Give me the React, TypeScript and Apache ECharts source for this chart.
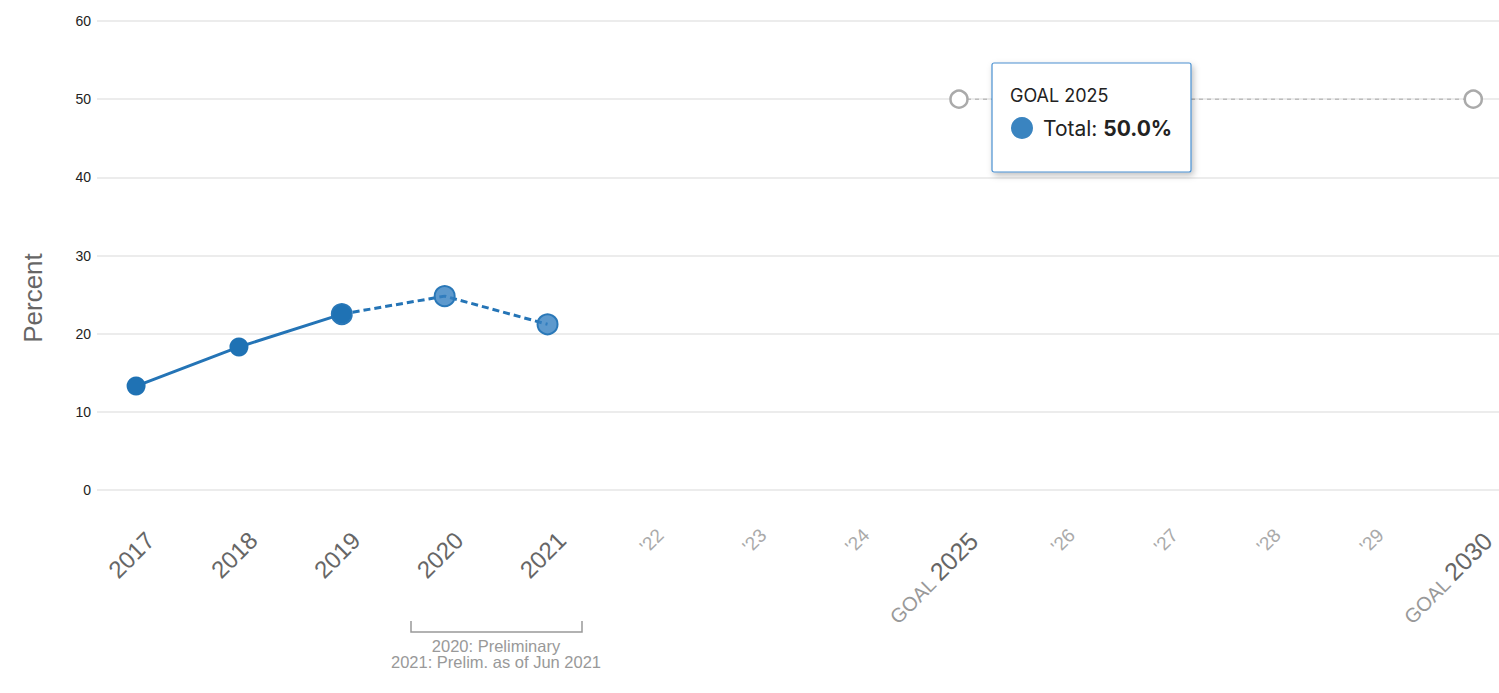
import React, { useEffect, useRef } from "react";
import * as echarts from "echarts";

// Share of total, percent
const finalYears = [2017, 2018, 2019];
const finalValues = [13.3, 18.3, 22.5];
const prelimYears = [2019, 2020, 2021];
const prelimValues = [22.5, 24.8, 21.2];
const goalYears = [2025, 2030];
const goalValues = [50, 50];
const axisYears = [2017, 2018, 2019, 2020, 2021, 2022, 2023, 2024, 2025, 2026, 2027, 2028, 2029, 2030];
const yTicks = [0, 10, 20, 30, 40, 50, 60];

const FONT = "'Liberation Sans', Arial, Helvetica, sans-serif";
const TIP_FONT = "Inter, 'Noto Sans', sans-serif";

function pairs(xs: number[], ys: number[]) {
  return xs.map((x, i) => [x, ys[i]]);
}

export default function App() {
  const ref = useRef<HTMLDivElement>(null);

  useEffect(() => {
    document.body.style.margin = "0";
    const chart = echarts.init(ref.current!, null, { renderer: "svg" });
    chart.setOption({
      animation: false,
      textStyle: { fontFamily: FONT },
      grid: { left: 97, right: 0, top: 21, bottom: 203, containLabel: false },
      xAxis: {
        type: "value",
        min: 2016.62,
        max: 2030.25,
        axisLine: { show: false },
        axisTick: { show: false },
        splitLine: { show: false },
        axisLabel: {
          customValues: axisYears,
          rotate: 45,
          margin: 32,
          verticalAlign: "top",
          padding: [8, 0, 0, 0],
          fontFamily: FONT,
          formatter: (v: number) => {
            if (v === 2025 || v === 2030) return `{g|GOAL }{Y|${v}}`;
            if (v <= 2021) return `{y|${v}}`;
            return `{s|'${String(v).slice(2)}}`;
          },
          rich: {
            y: { fontSize: 24, lineHeight: 24, color: "#666", fontFamily: FONT, verticalAlign: "bottom" },
            Y: { fontSize: 25, lineHeight: 25, color: "#666", fontFamily: FONT, verticalAlign: "bottom" },
            g: { fontSize: 20, lineHeight: 25, color: "#999", fontFamily: FONT, verticalAlign: "bottom" },
            s: { fontSize: 19, lineHeight: 12, color: "#aaa", fontFamily: FONT },
          },
        },
      },
      yAxis: {
        type: "value",
        min: 0,
        max: 60,
        interval: 10,
        axisLine: { show: false },
        axisTick: { show: false },
        axisLabel: {
          customValues: yTicks,
          fontSize: 14,
          color: "#222",
          margin: 6,
          fontFamily: FONT,
        },
        splitLine: { lineStyle: { color: "#e6e6e6", width: 1.5 } },
      },
      series: [
        {
          name: "Goal",
          type: "line",
          data: pairs(goalYears, goalValues),
          symbol: "circle",
          symbolSize: 17,
          lineStyle: { color: "#bdbdbd", width: 1.5, type: [4, 4] },
          itemStyle: { color: "#fff", borderColor: "#aaa", borderWidth: 2.5 },
          z: 2,
        },
        {
          name: "Preliminary",
          type: "line",
          data: pairs(prelimYears, prelimValues),
          symbol: "circle",
          symbolSize: 20,
          lineStyle: { color: "#2474b6", width: 3, type: [7, 4] },
          itemStyle: {
            color: "rgba(52, 128, 192, 0.8)",
            borderColor: "#2a78b8",
            borderWidth: 2,
          },
          z: 3,
        },
        {
          name: "Total",
          type: "line",
          data: pairs(finalYears, finalValues),
          symbol: "circle",
          symbolSize: 19,
          lineStyle: { color: "#2474b6", width: 3 },
          itemStyle: { color: "#1f72b4" },
          z: 4,
        },
      ],
      graphic: [
        {
          type: "text",
          x: 33,
          y: 298,
          rotation: Math.PI / 2,
          style: {
            text: "Percent",
            fill: "#666",
            fontSize: 26,
            fontFamily: FONT,
            align: "center",
            verticalAlign: "middle",
          },
        },
        {
          type: "polyline",
          shape: { points: [[411, 621], [411, 632], [582, 632], [582, 621]] },
          style: { stroke: "#999", lineWidth: 1.5, fill: null },
        },
        {
          type: "text",
          x: 496,
          y: 646,
          style: {
            text: "2020: Preliminary",
            fill: "#999",
            fontSize: 16.5,
            fontFamily: FONT,
            align: "center",
            verticalAlign: "middle",
          },
        },
        {
          type: "text",
          x: 496,
          y: 662,
          style: {
            text: "2021: Prelim. as of Jun 2021",
            fill: "#999",
            fontSize: 16.5,
            fontFamily: FONT,
            align: "center",
            verticalAlign: "middle",
          },
        },
        {
          type: "group",
          x: 992,
          y: 63,
          z: 100,
          children: [
            {
              type: "rect",
              z: 100,
              shape: { x: 0, y: 0, width: 199, height: 109, r: 2 },
              style: {
                fill: "#fff",
                stroke: "#4a90d0",
                lineWidth: 1.2,
                shadowBlur: 6,
                shadowOffsetX: 2,
                shadowOffsetY: 3,
                shadowColor: "rgba(0,0,0,0.25)",
              },
            },
            {
              type: "text",
              z: 101,
              x: 18,
              y: 32,
              style: {
                text: "GOAL 2025",
                fill: "#222",
                fontSize: 18,
                fontFamily: TIP_FONT,
                verticalAlign: "middle",
              },
            },
            {
              type: "circle",
              z: 101,
              shape: { cx: 30, cy: 65, r: 11 },
              style: { fill: "#3a84c0" },
            },
            {
              type: "text",
              z: 101,
              x: 51,
              y: 65,
              style: {
                text: "{n|Total: }{b|50.0%}",
                verticalAlign: "middle",
                rich: {
                  n: { fontSize: 21, fill: "#222", fontFamily: TIP_FONT },
                  b: { fontSize: 21, fill: "#222", fontWeight: "bold", fontFamily: TIP_FONT },
                },
              },
            },
          ],
        },
      ],
    });
    return () => chart.dispose();
  }, []);

  return (
    <div
      ref={ref}
      style={{ position: "absolute", left: 0, top: 0, width: 1499, height: 693, background: "#fff" }}
    />
  );
}
